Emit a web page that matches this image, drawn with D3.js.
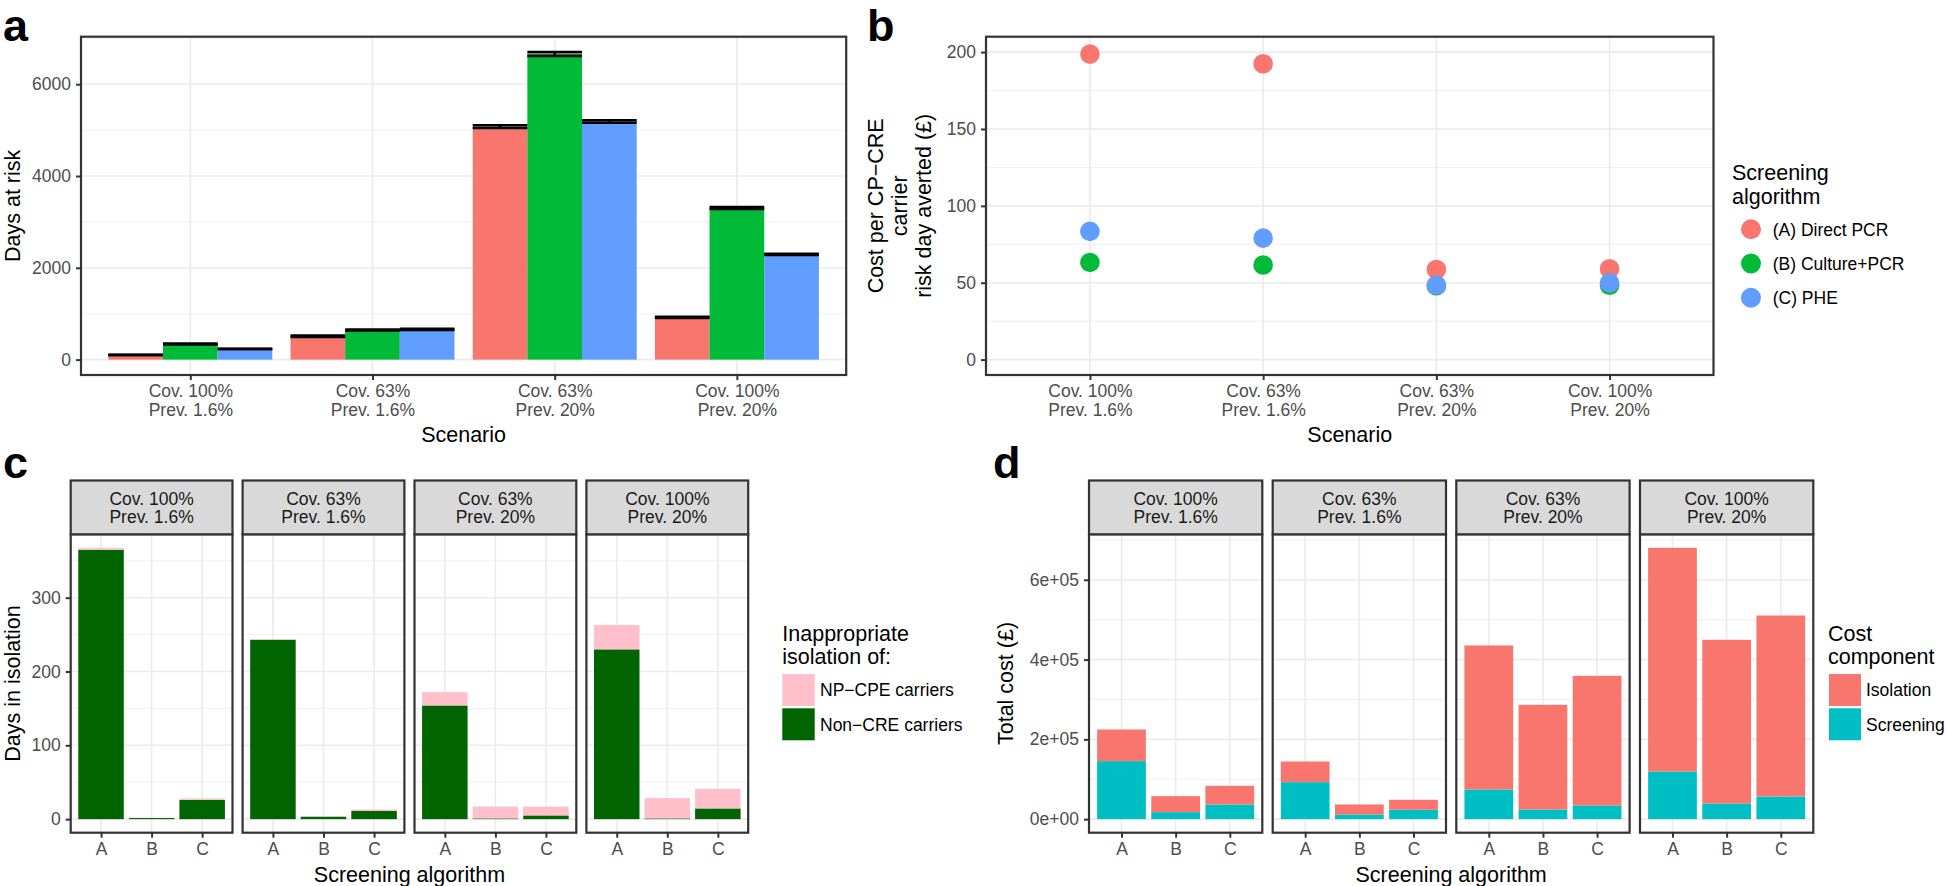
<!DOCTYPE html>
<html><head><meta charset="utf-8">
<script src="https://cdn.jsdelivr.net/npm/d3@7"></script>
<style>
body{margin:0;background:#fff;}
svg{display:block;font-family:"Liberation Sans",Arial,Helvetica,sans-serif;}
</style></head><body>
<svg id="chart" width="1946" height="886"></svg>
<script>
// ---------- data ----------
const scenarios = ["Cov. 100%|Prev. 1.6%", "Cov. 63%|Prev. 1.6%", "Cov. 63%|Prev. 20%", "Cov. 100%|Prev. 20%"];
const algorithms = ["(A) Direct PCR", "(B) Culture+PCR", "(C) PHE"];
const algoLetters = ["A", "B", "C"];
const algoColors = ["#F8766D", "#00BA38", "#619CFF"];

// panel a: days at risk (mean, low, high) per algorithm, per scenario
const riskMeanA = [102, 509, 5076, 920];
const riskMeanB = [342, 647, 6658, 3305];
const riskMeanC = [233, 658, 5189, 2295];
const riskLowA = [100, 493, 5045, 907];
const riskLowB = [333, 638, 6616, 3285];
const riskLowC = [231, 645, 5162, 2282];
const riskHighA = [104, 525, 5107, 933];
const riskHighB = [351, 656, 6700, 3325];
const riskHighC = [235, 671, 5216, 2308];
const riskTicks = [0, 2000, 4000, 6000];

// panel b: cost per carrier risk day averted
const costPerDayA = [198.7, 192.4, 58.6, 59.1];
const costPerDayB = [63.2, 61.5, 48.0, 48.4];
const costPerDayC = [83.4, 79.0, 48.4, 49.9];
const costPerDayTicks = [0, 50, 100, 150, 200];
const costPerDayLimits = [0, 200];

// panel c: days in isolation, per scenario [A, B, C]
const isoNonCRE = [[365, 1.5, 26], [243, 3.3, 11], [154, 1, 5], [230, 1, 14.5]];
const isoNPCPE = [[2.5, 0.5, 2], [1, 0.4, 2], [18, 16, 12], [33, 27.5, 26.5]];
const isoKeys = ["NP\u2212CPE carriers", "Non\u2212CRE carriers"];
const isoColors = ["#FFC0CB", "#006400"];
const isoTicks = [0, 100, 200, 300];

// panel d: total cost, per scenario [A, B, C]
const costScreening = [[145400, 17500, 36800], [92700, 11700, 23400], [74400, 24200, 34300], [119500, 39300, 56800]];
const costIsolation = [[79300, 40100, 46700], [51800, 25100, 25100], [360900, 262300, 324900], [560500, 410200, 453600]];
const costKeys = ["Isolation", "Screening"];
const costColors = ["#F8766D", "#00BFC4"];
const costTicks = [0, 200000, 400000, 600000];

// ---------- helpers ----------
const svg = d3.select("#chart");
const FONT = '"Liberation Sans",Arial,Helvetica,sans-serif';
const TICK_FS = 17.5, TITLE_FS = 21.5;
const GRID = "#ebebeb", BORDER = "#333333";

function gridY(g, y, x0, x1, major, minor) {
  minor.forEach(v => g.append("line").attr("x1", x0).attr("x2", x1).attr("y1", y(v)).attr("y2", y(v))
    .attr("stroke", GRID).attr("stroke-width", 0.8));
  major.forEach(v => g.append("line").attr("x1", x0).attr("x2", x1).attr("y1", y(v)).attr("y2", y(v))
    .attr("stroke", GRID).attr("stroke-width", 1.6));
}
function gridX(g, xs, y0, y1) {
  xs.forEach(v => g.append("line").attr("x1", v).attr("x2", v).attr("y1", y0).attr("y2", y1)
    .attr("stroke", GRID).attr("stroke-width", 1.6));
}
function minorTicks(major, domain) {
  const step = major[1] - major[0];
  const out = [];
  for (let v = major[0] - step / 2; v <= domain[1]; v += step) if (v >= domain[0]) out.push(v);
  return out;
}
function styleAxis(ax) {
  ax.attr("font-family", FONT).attr("font-size", TICK_FS);
  ax.select(".domain").remove();
  ax.selectAll(".tick line").attr("stroke", BORDER).attr("stroke-width", 2);
  ax.selectAll(".tick text").attr("fill", "#4d4d4d");
}
function yAxis(g, y, x, ticks, fmt) {
  const ax = g.append("g").attr("transform", `translate(${x},0)`)
    .call(d3.axisLeft(y).tickValues(ticks).tickFormat(fmt).tickSize(5).tickPadding(5));
  styleAxis(ax);
}
function xAxis(g, x, yPos, multiline) {
  const ax = g.append("g").attr("transform", `translate(0,${yPos})`)
    .call(d3.axisBottom(x).tickSize(5).tickPadding(5));
  styleAxis(ax);
  if (multiline) {
    ax.selectAll(".tick text").each(function (d) {
      const t = d3.select(this); const parts = d.split("|");
      t.text(null);
      parts.forEach((p, i) => t.append("tspan").attr("x", 0).attr("dy", i === 0 ? "0.71em" : "1.05em").text(p));
    });
  }
}
function border(g, x0, y0, w, h) {
  g.append("rect").attr("x", x0).attr("y", y0).attr("width", w).attr("height", h)
    .attr("fill", "none").attr("stroke", BORDER).attr("stroke-width", 2.2);
}
function text(g, x, y, s, opts = {}) {
  return g.append("text").attr("x", x).attr("y", y).text(s)
    .attr("font-family", FONT).attr("font-size", opts.fs || TITLE_FS)
    .attr("fill", opts.fill || "#000").attr("font-weight", opts.fw || "normal")
    .attr("text-anchor", opts.anchor || "start");
}
function yTitle(g, x, y, s) {
  g.append("text").attr("transform", `translate(${x},${y}) rotate(-90)`).attr("text-anchor", "middle")
    .attr("font-family", FONT).attr("font-size", TITLE_FS).attr("fill", "#000").text(s);
}
function sciFmt(v) {
  if (v === 0) return "0e+00";
  const e = Math.floor(Math.log10(Math.abs(v)));
  const m = Math.round(v / Math.pow(10, e));
  return `${m}e+${String(e).padStart(2, "0")}`;
}

// ---------- panel a ----------
(function () {
  const g = svg.append("g");
  const L = 81, R = 846.2, T = 36.7, B = 375;
  const means = [riskMeanA, riskMeanB, riskMeanC];
  const lows = [riskLowA, riskLowB, riskLowC];
  const highs = [riskHighA, riskHighB, riskHighC];
  const maxV = d3.max(highs.flat());
  const y = d3.scaleLinear().domain([-0.05 * maxV, 1.05 * maxV]).range([B, T]);
  const x = d3.scalePoint().domain(scenarios).range([L, R]).padding(0.6);
  const sub = d3.scaleBand().domain(algorithms).range([-0.45 * x.step(), 0.45 * x.step()]);
  g.append("rect").attr("x", L).attr("y", T).attr("width", R - L).attr("height", B - T).attr("fill", "#fff");
  gridY(g, y, L, R, riskTicks, minorTicks(riskTicks, y.domain()));
  gridX(g, scenarios.map(s => x(s)), T, B);
  algorithms.forEach((a, ai) => {
    scenarios.forEach((s, si) => {
      const bx = x(s) + sub(a);
      g.append("rect").attr("x", bx).attr("width", sub.bandwidth())
        .attr("y", y(means[ai][si])).attr("height", y(0) - y(means[ai][si])).attr("fill", algoColors[ai]);
    });
  });
  algorithms.forEach((a, ai) => {
    scenarios.forEach((s, si) => {
      const bx = x(s) + sub(a), bw = sub.bandwidth();
      [lows[ai][si], highs[ai][si]].forEach(v => g.append("line").attr("x1", bx).attr("x2", bx + bw)
        .attr("y1", y(v)).attr("y2", y(v)).attr("stroke", "#000").attr("stroke-width", 2.6));
      g.append("line").attr("x1", bx + bw / 2).attr("x2", bx + bw / 2)
        .attr("y1", y(lows[ai][si])).attr("y2", y(highs[ai][si])).attr("stroke", "#000").attr("stroke-width", 2.6);
    });
  });
  border(g, L, T, R - L, B - T);
  yAxis(g, y, L, riskTicks, d3.format("d"));
  xAxis(g, x, B, true);
  yTitle(g, 19.5, (T + B) / 2, "Days at risk");
  text(g, (L + R) / 2, 442, "Scenario", { anchor: "middle" });
  text(g, 3, 41, "a", { fs: 45, fw: "bold" });
})();

// ---------- panel b ----------
(function () {
  const g = svg.append("g");
  const L = 986, R = 1713.5, T = 36.7, B = 375;
  const vals = [costPerDayA, costPerDayB, costPerDayC];
  const span = costPerDayLimits[1] - costPerDayLimits[0];
  const y = d3.scaleLinear().domain([costPerDayLimits[0] - 0.05 * span, costPerDayLimits[1] + 0.05 * span]).range([B, T]);
  const x = d3.scalePoint().domain(scenarios).range([L, R]).padding(0.6);
  g.append("rect").attr("x", L).attr("y", T).attr("width", R - L).attr("height", B - T).attr("fill", "#fff");
  gridY(g, y, L, R, costPerDayTicks, minorTicks(costPerDayTicks, y.domain()));
  gridX(g, scenarios.map(s => x(s)), T, B);
  algorithms.forEach((a, ai) => {
    g.selectAll(null).data(vals[ai]).enter().append("circle")
      .attr("cx", (d, i) => x(scenarios[i])).attr("cy", d => y(d)).attr("r", 9.8).attr("fill", algoColors[ai]);
  });
  border(g, L, T, R - L, B - T);
  yAxis(g, y, L, costPerDayTicks, d3.format("d"));
  xAxis(g, x, B, true);
  const tl = ["Cost per CP\u2212CRE", "carrier", "risk day averted (\u00a3)"];
  tl.forEach((s, i) => yTitle(g, 883 + i * 24, (T + B) / 2, s));
  text(g, (L + R) / 2, 442, "Scenario", { anchor: "middle" });
  text(g, 867, 41, "b", { fs: 45, fw: "bold" });
  // legend
  text(g, 1732, 180.4, "Screening");
  text(g, 1732, 203.5, "algorithm");
  algorithms.forEach((a, i) => {
    const cy = 229.3 + i * 34.2;
    g.append("circle").attr("cx", 1751).attr("cy", cy).attr("r", 10).attr("fill", algoColors[i]);
    text(g, 1772.7, cy, a, { fs: TICK_FS }).attr("dy", "0.36em");
  });
})();

// ---------- faceted stacked bars ----------
function facetPanel(opts) {
  const g = svg.append("g");
  const { lefts, width, stripTop, T, B, lower, upper, lowerCol, upperCol, ticks, fmt } = opts;
  const maxV = d3.max(lower.map((r, i) => d3.max(r.map((v, j) => v + upper[i][j]))));
  const y = d3.scaleLinear().domain([-0.05 * maxV, 1.05 * maxV]).range([B, T]);
  scenarios.forEach((s, si) => {
    const L = lefts[si], R = L + width;
    const x = d3.scalePoint().domain(algoLetters).range([L, R]).padding(0.6);
    const bw = 0.9 * x.step();
    g.append("rect").attr("x", L).attr("y", T).attr("width", width).attr("height", B - T).attr("fill", "#fff");
    gridY(g, y, L, R, ticks, minorTicks(ticks, y.domain()));
    gridX(g, algoLetters.map(a => x(a)), T, B);
    algoLetters.forEach((a, ai) => {
      const lo = lower[si][ai], up = upper[si][ai];
      g.append("rect").attr("x", x(a) - bw / 2).attr("width", bw)
        .attr("y", y(lo)).attr("height", y(0) - y(lo)).attr("fill", lowerCol);
      g.append("rect").attr("x", x(a) - bw / 2).attr("width", bw)
        .attr("y", y(lo + up)).attr("height", y(lo) - y(lo + up)).attr("fill", upperCol);
    });
    border(g, L, T, width, B - T);
    // strip
    g.append("rect").attr("x", L).attr("y", stripTop).attr("width", width).attr("height", T - stripTop)
      .attr("fill", "#d9d9d9").attr("stroke", BORDER).attr("stroke-width", 2.2);
    s.split("|").forEach((p, i) => text(g, (L + R) / 2, stripTop + 24.5 + i * 18.2, p,
      { fs: TICK_FS, fill: "#1a1a1a", anchor: "middle" }));
    xAxis(g, x, B, false);
    if (si === 0) yAxis(g, y, L, ticks, fmt);
  });
  return g;
}

// ---------- panel c ----------
(function () {
  const lefts = [70.7, 242.6, 414.5, 586.4], width = 161.8;
  const g = facetPanel({ lefts, width, stripTop: 480.5, T: 534.3, B: 832.7,
    lower: isoNonCRE, upper: isoNPCPE, lowerCol: isoColors[1], upperCol: isoColors[0],
    ticks: isoTicks, fmt: d3.format("d") });
  yTitle(g, 19.5, 683.5, "Days in isolation");
  text(g, (lefts[0] + lefts[3] + width) / 2, 882, "Screening algorithm", { anchor: "middle" });
  text(g, 3, 478, "c", { fs: 45, fw: "bold" });
  text(g, 782.3, 640.5, "Inappropriate");
  text(g, 782.3, 663.5, "isolation of:");
  isoKeys.forEach((k, i) => {
    g.append("rect").attr("x", 782.3).attr("y", 674 + i * 34.3).attr("width", 32.4).attr("height", 32).attr("fill", isoColors[i]);
    text(g, 820, 690 + i * 34.3, k, { fs: TICK_FS }).attr("dy", "0.36em");
  });
})();

// ---------- panel d ----------
(function () {
  const lefts = [1089, 1272.7, 1456.3, 1640], width = 173.3;
  const g = facetPanel({ lefts, width, stripTop: 480.5, T: 534.3, B: 832.7,
    lower: costScreening, upper: costIsolation, lowerCol: costColors[1], upperCol: costColors[0],
    ticks: costTicks, fmt: sciFmt });
  yTitle(g, 1012.5, 683.5, "Total cost (\u00a3)");
  text(g, (lefts[0] + lefts[3] + width) / 2, 882, "Screening algorithm", { anchor: "middle" });
  text(g, 993, 478, "d", { fs: 45, fw: "bold" });
  text(g, 1828, 640.5, "Cost");
  text(g, 1828, 663.5, "component");
  costKeys.forEach((k, i) => {
    g.append("rect").attr("x", 1829).attr("y", 674 + i * 34.3).attr("width", 32).attr("height", 32).attr("fill", costColors[i]);
    text(g, 1866, 690 + i * 34.3, k, { fs: TICK_FS }).attr("dy", "0.36em");
  });
})();
</script>
</body></html>
